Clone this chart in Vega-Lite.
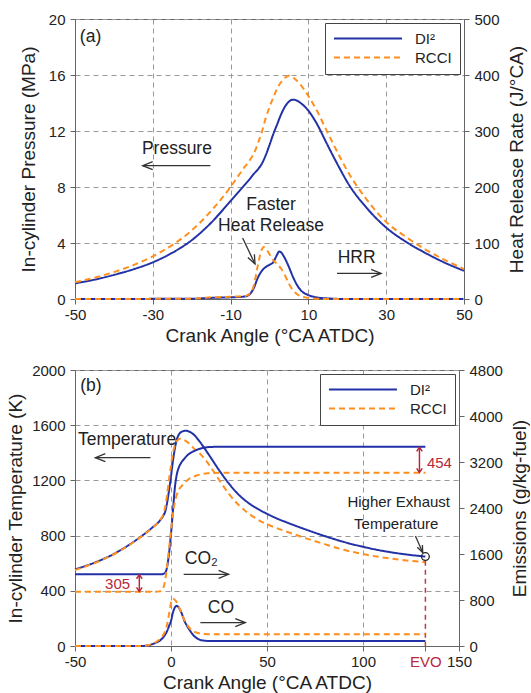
{
"$schema": "https://vega.github.io/schema/vega-lite/v6.json",
"padding": {"left": 6, "top": 11, "right": 0, "bottom": 0},
"spacing": 16,
"config": {
  "font": "Liberation Sans",
  "view": {"stroke": "#666"},
  "axis": {"labelFont": "Liberation Sans", "labelFontSize": 15, "labelColor": "#222", "titleFont": "Liberation Sans", "titleFontSize": 19, "titleFontWeight": "normal", "titleColor": "#222", "domainColor": "#666", "tickColor": "#666", "tickSize": 5, "gridColor": "#999", "gridDash": [5, 4], "labelFlush": false, "labelOverlap": false, "format": "d"},
  "legend": {"orient": "top-right", "offset": 4, "symbolType": "stroke", "symbolSize": 4624, "symbolStrokeWidth": 2, "clipHeight": 15, "labelFontSize": 15, "labelFont": "Liberation Sans", "labelColor": "#222", "strokeColor": "#444", "fillColor": "white", "padding": 8, "rowPadding": 3, "labelOffset": 12}
},
"datasets": {
  "pres": [
    {"ca":-50,"p":1.12,"s":"DI²"},{"ca":-45,"p":1.38,"s":"DI²"},{"ca":-40,"p":1.72,"s":"DI²"},{"ca":-35,"p":2.12,"s":"DI²"},{"ca":-30,"p":2.62,"s":"DI²"},{"ca":-25,"p":3.3,"s":"DI²"},{"ca":-20,"p":4.2,"s":"DI²"},{"ca":-15,"p":5.45,"s":"DI²"},{"ca":-10,"p":7.0,"s":"DI²"},{"ca":-7,"p":7.95,"s":"DI²"},{"ca":-5,"p":8.6,"s":"DI²"},{"ca":-4,"p":8.95,"s":"DI²"},{"ca":-3,"p":9.25,"s":"DI²"},{"ca":-2,"p":9.65,"s":"DI²"},{"ca":-1,"p":10.25,"s":"DI²"},{"ca":0,"p":11.0,"s":"DI²"},{"ca":1,"p":11.8,"s":"DI²"},{"ca":2,"p":12.5,"s":"DI²"},{"ca":3,"p":13.2,"s":"DI²"},{"ca":4,"p":13.75,"s":"DI²"},{"ca":5,"p":14.1,"s":"DI²"},{"ca":6,"p":14.24,"s":"DI²"},{"ca":7,"p":14.18,"s":"DI²"},{"ca":8,"p":14.0,"s":"DI²"},{"ca":10,"p":13.45,"s":"DI²"},{"ca":12,"p":12.6,"s":"DI²"},{"ca":15,"p":10.95,"s":"DI²"},{"ca":18,"p":9.35,"s":"DI²"},{"ca":20,"p":8.35,"s":"DI²"},{"ca":25,"p":6.5,"s":"DI²"},{"ca":30,"p":5.1,"s":"DI²"},{"ca":35,"p":4.1,"s":"DI²"},{"ca":40,"p":3.3,"s":"DI²"},{"ca":45,"p":2.6,"s":"DI²"},{"ca":50,"p":2.02,"s":"DI²"},
    {"ca":-50,"p":1.2,"s":"RCCI"},{"ca":-45,"p":1.52,"s":"RCCI"},{"ca":-40,"p":1.92,"s":"RCCI"},{"ca":-35,"p":2.42,"s":"RCCI"},{"ca":-30,"p":3.05,"s":"RCCI"},{"ca":-25,"p":3.85,"s":"RCCI"},{"ca":-20,"p":4.9,"s":"RCCI"},{"ca":-15,"p":6.3,"s":"RCCI"},{"ca":-10,"p":8.0,"s":"RCCI"},{"ca":-7,"p":9.2,"s":"RCCI"},{"ca":-5,"p":9.95,"s":"RCCI"},{"ca":-4,"p":10.4,"s":"RCCI"},{"ca":-3,"p":11.1,"s":"RCCI"},{"ca":-2,"p":11.9,"s":"RCCI"},{"ca":-1,"p":12.9,"s":"RCCI"},{"ca":0,"p":13.7,"s":"RCCI"},{"ca":1,"p":14.4,"s":"RCCI"},{"ca":2,"p":15.05,"s":"RCCI"},{"ca":3,"p":15.5,"s":"RCCI"},{"ca":4,"p":15.8,"s":"RCCI"},{"ca":5,"p":15.95,"s":"RCCI"},{"ca":6,"p":15.85,"s":"RCCI"},{"ca":7,"p":15.6,"s":"RCCI"},{"ca":8,"p":15.3,"s":"RCCI"},{"ca":10,"p":14.5,"s":"RCCI"},{"ca":12,"p":13.55,"s":"RCCI"},{"ca":15,"p":11.85,"s":"RCCI"},{"ca":18,"p":10.2,"s":"RCCI"},{"ca":20,"p":9.16,"s":"RCCI"},{"ca":25,"p":7.1,"s":"RCCI"},{"ca":30,"p":5.5,"s":"RCCI"},{"ca":35,"p":4.45,"s":"RCCI"},{"ca":40,"p":3.55,"s":"RCCI"},{"ca":45,"p":2.8,"s":"RCCI"},{"ca":50,"p":2.14,"s":"RCCI"}
  ],
  "hrr": [
    {"ca":-50,"h":0,"s":"DI²"},{"ca":-20,"h":0.5,"s":"DI²"},{"ca":-15,"h":2,"s":"DI²"},{"ca":-10,"h":3,"s":"DI²"},{"ca":-7,"h":4,"s":"DI²"},{"ca":-6,"h":5,"s":"DI²"},{"ca":-5,"h":9,"s":"DI²"},{"ca":-4,"h":20,"s":"DI²"},{"ca":-3,"h":38,"s":"DI²"},{"ca":-2,"h":50,"s":"DI²"},{"ca":-1,"h":57,"s":"DI²"},{"ca":0,"h":61,"s":"DI²"},{"ca":1,"h":66,"s":"DI²"},{"ca":2,"h":80,"s":"DI²"},{"ca":2.5,"h":85,"s":"DI²"},{"ca":3,"h":83,"s":"DI²"},{"ca":4,"h":72,"s":"DI²"},{"ca":5,"h":57,"s":"DI²"},{"ca":6,"h":40,"s":"DI²"},{"ca":7,"h":26,"s":"DI²"},{"ca":8,"h":16,"s":"DI²"},{"ca":10,"h":7,"s":"DI²"},{"ca":12,"h":3,"s":"DI²"},{"ca":15,"h":1,"s":"DI²"},{"ca":20,"h":0,"s":"DI²"},{"ca":50,"h":0,"s":"DI²"},
    {"ca":-50,"h":0,"s":"RCCI"},{"ca":-20,"h":0.5,"s":"RCCI"},{"ca":-15,"h":3,"s":"RCCI"},{"ca":-10,"h":4,"s":"RCCI"},{"ca":-7,"h":5,"s":"RCCI"},{"ca":-6,"h":6,"s":"RCCI"},{"ca":-5,"h":10,"s":"RCCI"},{"ca":-4,"h":25,"s":"RCCI"},{"ca":-3,"h":60,"s":"RCCI"},{"ca":-2,"h":88,"s":"RCCI"},{"ca":-1.5,"h":93,"s":"RCCI"},{"ca":-1,"h":91,"s":"RCCI"},{"ca":0,"h":80,"s":"RCCI"},{"ca":1,"h":69,"s":"RCCI"},{"ca":2,"h":62,"s":"RCCI"},{"ca":3,"h":54,"s":"RCCI"},{"ca":4,"h":42,"s":"RCCI"},{"ca":5,"h":27,"s":"RCCI"},{"ca":6,"h":16,"s":"RCCI"},{"ca":7,"h":9,"s":"RCCI"},{"ca":8,"h":5,"s":"RCCI"},{"ca":10,"h":2,"s":"RCCI"},{"ca":12,"h":0.5,"s":"RCCI"},{"ca":15,"h":0,"s":"RCCI"},{"ca":50,"h":0,"s":"RCCI"}
  ],
  "temp": [
    {"ca":-50,"t":556,"s":"DI²"},{"ca":-45,"t":578,"s":"DI²"},{"ca":-40,"t":603,"s":"DI²"},{"ca":-35,"t":632,"s":"DI²"},{"ca":-30,"t":665,"s":"DI²"},{"ca":-25,"t":705,"s":"DI²"},{"ca":-20,"t":750,"s":"DI²"},{"ca":-15,"t":800,"s":"DI²"},{"ca":-10,"t":855,"s":"DI²"},{"ca":-6,"t":905,"s":"DI²"},{"ca":-4,"t":945,"s":"DI²"},{"ca":-3,"t":975,"s":"DI²"},{"ca":-2,"t":1040,"s":"DI²"},{"ca":-1,"t":1130,"s":"DI²"},{"ca":0,"t":1230,"s":"DI²"},{"ca":1,"t":1340,"s":"DI²"},{"ca":2,"t":1430,"s":"DI²"},{"ca":3,"t":1495,"s":"DI²"},{"ca":4,"t":1530,"s":"DI²"},{"ca":6,"t":1555,"s":"DI²"},{"ca":8,"t":1560,"s":"DI²"},{"ca":10,"t":1550,"s":"DI²"},{"ca":12,"t":1530,"s":"DI²"},{"ca":15,"t":1480,"s":"DI²"},{"ca":20,"t":1380,"s":"DI²"},{"ca":25,"t":1275,"s":"DI²"},{"ca":30,"t":1180,"s":"DI²"},{"ca":35,"t":1100,"s":"DI²"},{"ca":40,"t":1040,"s":"DI²"},{"ca":45,"t":995,"s":"DI²"},{"ca":50,"t":958,"s":"DI²"},{"ca":55,"t":925,"s":"DI²"},{"ca":60,"t":897,"s":"DI²"},{"ca":70,"t":845,"s":"DI²"},{"ca":80,"t":797,"s":"DI²"},{"ca":90,"t":754,"s":"DI²"},{"ca":100,"t":719,"s":"DI²"},{"ca":110,"t":690,"s":"DI²"},{"ca":120,"t":668,"s":"DI²"},{"ca":132.5,"t":648,"s":"DI²"},
    {"ca":-50,"t":550,"s":"RCCI"},{"ca":-45,"t":574,"s":"RCCI"},{"ca":-40,"t":600,"s":"RCCI"},{"ca":-35,"t":630,"s":"RCCI"},{"ca":-30,"t":663,"s":"RCCI"},{"ca":-25,"t":703,"s":"RCCI"},{"ca":-20,"t":748,"s":"RCCI"},{"ca":-15,"t":798,"s":"RCCI"},{"ca":-10,"t":853,"s":"RCCI"},{"ca":-6,"t":905,"s":"RCCI"},{"ca":-5,"t":925,"s":"RCCI"},{"ca":-4,"t":955,"s":"RCCI"},{"ca":-3,"t":1010,"s":"RCCI"},{"ca":-2,"t":1100,"s":"RCCI"},{"ca":-1,"t":1210,"s":"RCCI"},{"ca":0,"t":1310,"s":"RCCI"},{"ca":1,"t":1400,"s":"RCCI"},{"ca":2,"t":1455,"s":"RCCI"},{"ca":3,"t":1485,"s":"RCCI"},{"ca":5,"t":1503,"s":"RCCI"},{"ca":7,"t":1492,"s":"RCCI"},{"ca":10,"t":1460,"s":"RCCI"},{"ca":12,"t":1430,"s":"RCCI"},{"ca":15,"t":1395,"s":"RCCI"},{"ca":20,"t":1310,"s":"RCCI"},{"ca":25,"t":1205,"s":"RCCI"},{"ca":30,"t":1105,"s":"RCCI"},{"ca":35,"t":1025,"s":"RCCI"},{"ca":40,"t":965,"s":"RCCI"},{"ca":45,"t":918,"s":"RCCI"},{"ca":50,"t":882,"s":"RCCI"},{"ca":55,"t":855,"s":"RCCI"},{"ca":60,"t":830,"s":"RCCI"},{"ca":70,"t":782,"s":"RCCI"},{"ca":80,"t":738,"s":"RCCI"},{"ca":90,"t":697,"s":"RCCI"},{"ca":100,"t":666,"s":"RCCI"},{"ca":110,"t":642,"s":"RCCI"},{"ca":120,"t":624,"s":"RCCI"},{"ca":132.5,"t":607,"s":"RCCI"}
  ],
  "emis": [
    {"ca":-50,"e":1247,"s":"DI²","g":"CO2"},{"ca":-10,"e":1247,"s":"DI²","g":"CO2"},{"ca":-5,"e":1249,"s":"DI²","g":"CO2"},{"ca":-4,"e":1255,"s":"DI²","g":"CO2"},{"ca":-3,"e":1275,"s":"DI²","g":"CO2"},{"ca":-2,"e":1380,"s":"DI²","g":"CO2"},{"ca":-1,"e":1620,"s":"DI²","g":"CO2"},{"ca":0,"e":1950,"s":"DI²","g":"CO2"},{"ca":1,"e":2350,"s":"DI²","g":"CO2"},{"ca":2,"e":2750,"s":"DI²","g":"CO2"},{"ca":3,"e":2980,"s":"DI²","g":"CO2"},{"ca":4,"e":3100,"s":"DI²","g":"CO2"},{"ca":5,"e":3170,"s":"DI²","g":"CO2"},{"ca":7,"e":3260,"s":"DI²","g":"CO2"},{"ca":9,"e":3330,"s":"DI²","g":"CO2"},{"ca":12,"e":3390,"s":"DI²","g":"CO2"},{"ca":16,"e":3440,"s":"DI²","g":"CO2"},{"ca":20,"e":3460,"s":"DI²","g":"CO2"},{"ca":25,"e":3465,"s":"DI²","g":"CO2"},{"ca":132.5,"e":3465,"s":"DI²","g":"CO2"},
    {"ca":-50,"e":942,"s":"RCCI","g":"CO2"},{"ca":-10,"e":942,"s":"RCCI","g":"CO2"},{"ca":-6,"e":950,"s":"RCCI","g":"CO2"},{"ca":-5,"e":965,"s":"RCCI","g":"CO2"},{"ca":-4,"e":1010,"s":"RCCI","g":"CO2"},{"ca":-3,"e":1150,"s":"RCCI","g":"CO2"},{"ca":-2,"e":1400,"s":"RCCI","g":"CO2"},{"ca":-1,"e":1700,"s":"RCCI","g":"CO2"},{"ca":0,"e":2000,"s":"RCCI","g":"CO2"},{"ca":1,"e":2300,"s":"RCCI","g":"CO2"},{"ca":2,"e":2500,"s":"RCCI","g":"CO2"},{"ca":3,"e":2630,"s":"RCCI","g":"CO2"},{"ca":4,"e":2710,"s":"RCCI","g":"CO2"},{"ca":6,"e":2800,"s":"RCCI","g":"CO2"},{"ca":8,"e":2870,"s":"RCCI","g":"CO2"},{"ca":10,"e":2920,"s":"RCCI","g":"CO2"},{"ca":13,"e":2960,"s":"RCCI","g":"CO2"},{"ca":16,"e":2990,"s":"RCCI","g":"CO2"},{"ca":20,"e":3005,"s":"RCCI","g":"CO2"},{"ca":25,"e":3011,"s":"RCCI","g":"CO2"},{"ca":132.5,"e":3011,"s":"RCCI","g":"CO2"},
    {"ca":-50,"e":0,"s":"DI²","g":"CO"},{"ca":-15,"e":0,"s":"DI²","g":"CO"},{"ca":-12,"e":10,"s":"DI²","g":"CO"},{"ca":-10,"e":29,"s":"DI²","g":"CO"},{"ca":-8,"e":55,"s":"DI²","g":"CO"},{"ca":-5,"e":116,"s":"DI²","g":"CO"},{"ca":-3,"e":200,"s":"DI²","g":"CO"},{"ca":-2,"e":262,"s":"DI²","g":"CO"},{"ca":-1,"e":350,"s":"DI²","g":"CO"},{"ca":0,"e":436,"s":"DI²","g":"CO"},{"ca":1,"e":582,"s":"DI²","g":"CO"},{"ca":2,"e":669,"s":"DI²","g":"CO"},{"ca":3,"e":698,"s":"DI²","g":"CO"},{"ca":4,"e":670,"s":"DI²","g":"CO"},{"ca":5,"e":611,"s":"DI²","g":"CO"},{"ca":6,"e":530,"s":"DI²","g":"CO"},{"ca":7,"e":436,"s":"DI²","g":"CO"},{"ca":8,"e":370,"s":"DI²","g":"CO"},{"ca":10,"e":262,"s":"DI²","g":"CO"},{"ca":12,"e":175,"s":"DI²","g":"CO"},{"ca":14,"e":125,"s":"DI²","g":"CO"},{"ca":16,"e":99,"s":"DI²","g":"CO"},{"ca":20,"e":88,"s":"DI²","g":"CO"},{"ca":25,"e":87,"s":"DI²","g":"CO"},{"ca":132.5,"e":87,"s":"DI²","g":"CO"},
    {"ca":-50,"e":0,"s":"RCCI","g":"CO"},{"ca":-15,"e":0,"s":"RCCI","g":"CO"},{"ca":-12,"e":12,"s":"RCCI","g":"CO"},{"ca":-10,"e":35,"s":"RCCI","g":"CO"},{"ca":-8,"e":65,"s":"RCCI","g":"CO"},{"ca":-5,"e":150,"s":"RCCI","g":"CO"},{"ca":-3,"e":260,"s":"RCCI","g":"CO"},{"ca":-2,"e":380,"s":"RCCI","g":"CO"},{"ca":-1,"e":560,"s":"RCCI","g":"CO"},{"ca":0,"e":750,"s":"RCCI","g":"CO"},{"ca":1,"e":824,"s":"RCCI","g":"CO"},{"ca":2,"e":805,"s":"RCCI","g":"CO"},{"ca":3,"e":760,"s":"RCCI","g":"CO"},{"ca":4,"e":690,"s":"RCCI","g":"CO"},{"ca":5,"e":610,"s":"RCCI","g":"CO"},{"ca":6,"e":530,"s":"RCCI","g":"CO"},{"ca":7,"e":450,"s":"RCCI","g":"CO"},{"ca":8,"e":390,"s":"RCCI","g":"CO"},{"ca":10,"e":300,"s":"RCCI","g":"CO"},{"ca":12,"e":250,"s":"RCCI","g":"CO"},{"ca":14,"e":225,"s":"RCCI","g":"CO"},{"ca":16,"e":212,"s":"RCCI","g":"CO"},{"ca":20,"e":206,"s":"RCCI","g":"CO"},{"ca":25,"e":204,"s":"RCCI","g":"CO"},{"ca":132.5,"e":204,"s":"RCCI","g":"CO"}
  ],
  "txtA": [
    {"ca":-46.0,"p":18.35,"txt":"(a)"},{"ca":-23.8,"p":10.33,"txt":"Pressure"},{"ca":0.4,"p":6.36,"txt":"Faster"},{"ca":0.4,"p":4.83,"txt":"Heat Release"},{"ca":22.4,"p":2.54,"txt":"HRR"}
  ],
  "arrA": [
    {"name":"pressure","ca":-15.2,"p":9.52,"ca2":-32.6,"p2":9.52},
    {"name":"faster","ca":-6.9,"p":4.36,"ca2":-3.73,"p2":2.5},
    {"name":"hrr","ca":17.35,"p":1.83,"ca2":28.7,"p2":1.83}
  ],
  "txtBT": [
    {"ca":-41.7,"t":1850,"txt":"(b)"},{"ca":-22.9,"t":1454,"txt":"Temperature"}
  ],
  "txtBT2": [
    {"ca":118.6,"t":1005,"txt":"Higher Exhaust"},{"ca":117.3,"t":846,"txt":"Temperature"}
  ],
  "arrBT": [
    {"name":"temp","ca":-10.7,"t":1365,"ca2":-39.4,"t2":1365},
    {"name":"exhaust","ca":127.3,"t":797,"ca2":131.1,"t2":677}
  ],
  "evo": [{"ca":132.5,"t":618,"t2":0}],
  "circ": [{"ca":132.5,"t":648}],
  "txtBE": [
    {"ca":15.8,"e":1420,"txt":"CO₂"},{"ca":26.0,"e":569,"txt":"CO"}
  ],
  "arrBE": [
    {"name":"co2","ca":6.6,"e":1247,"ca2":30.0,"e2":1247},
    {"name":"co","ca":15.3,"e":407,"ca2":38.7,"e2":407}
  ],
  "redTxt": [
    {"ca":-27.8,"e":991,"txt":"305"},{"ca":139.8,"e":3103,"txt":"454"}
  ],
  "redArr": [
    {"ca":-16.5,"e":950,"e2":1240},
    {"ca":129.4,"e":3020,"e2":3455}
  ]
},
"vconcat": [
  {
    "width": 389, "height": 280,
    "layer": [
      {
        "encoding": {
          "x": {"field": "ca", "type": "quantitative", "scale": {"domain": [-50, 50], "nice": false, "zero": false}, "axis": {"title": "Crank Angle (°CA ATDC)", "values": [-50, -30, -10, 10, 30, 50], "grid": true, "labelPadding": 3, "titlePadding": 4, "labelExpr": "replace(datum.label, '−', '-')"}},
          "y": {"field": "p", "type": "quantitative", "scale": {"domain": [0, 20], "nice": false}, "axis": {"title": "In-cylinder Pressure (MPa)", "values": [0, 4, 8, 12, 16, 20], "grid": true, "labelPadding": 5, "titlePadding": 10}}
        },
        "layer": [
          {"data": {"name": "pres"}, "mark": {"type": "line", "strokeWidth": 2, "interpolate": "monotone"},
           "encoding": {
             "color": {"field": "s", "type": "nominal", "scale": {"domain": ["DI²", "RCCI"], "range": ["#2331a6", "#ff8f1f"]}, "legend": {"title": null}},
             "strokeDash": {"field": "s", "type": "nominal", "scale": {"domain": ["DI²", "RCCI"], "range": [[1, 0], [6, 4]]}, "legend": {"title": null}}
           }},
          {"data": {"name": "txtA"}, "mark": {"type": "text", "fontSize": 17.5, "color": "#222", "baseline": "alphabetic", "align": "center"}, "encoding": {"text": {"field": "txt"}}},
          {"data": {"name": "arrA"}, "mark": {"type": "rule", "strokeWidth": 1.3, "color": "#333"}, "encoding": {"x2": {"field": "ca2"}, "y2": {"field": "p2"}}},
          {"data": {"name": "arrA"}, "transform": [{"filter": "datum.name == 'pressure'"}], "mark": {"type": "point", "shape": "M-1,-0.4L0,0L-1,0.4", "size": 400, "filled": false, "strokeWidth": 1.3, "color": "#333", "opacity": 1, "angle": 180}, "encoding": {"x": {"field": "ca2", "type": "quantitative"}, "y": {"field": "p2", "type": "quantitative"}}},
          {"data": {"name": "arrA"}, "transform": [{"filter": "datum.name == 'hrr'"}], "mark": {"type": "point", "shape": "M-1,-0.4L0,0L-1,0.4", "size": 400, "filled": false, "strokeWidth": 1.3, "color": "#333", "opacity": 1, "angle": 0}, "encoding": {"x": {"field": "ca2", "type": "quantitative"}, "y": {"field": "p2", "type": "quantitative"}}},
          {"data": {"name": "arrA"}, "transform": [{"filter": "datum.name == 'faster'"}], "mark": {"type": "point", "shape": "M-1,-0.4L0,0L-1,0.4", "size": 324, "filled": false, "strokeWidth": 1.3, "color": "#333", "opacity": 1, "angle": 64.7}, "encoding": {"x": {"field": "ca2", "type": "quantitative"}, "y": {"field": "p2", "type": "quantitative"}}}
        ]
      },
      {
        "encoding": {
          "x": {"field": "ca", "type": "quantitative", "scale": {"domain": [-50, 50], "nice": false, "zero": false}, "axis": {"title": "Crank Angle (°CA ATDC)", "values": [-50, -30, -10, 10, 30, 50], "grid": true, "labelPadding": 3, "titlePadding": 4, "labelExpr": "replace(datum.label, '−', '-')"}},
          "y": {"field": "h", "type": "quantitative", "scale": {"domain": [0, 500], "nice": false}, "axis": {"title": "Heat Release Rate (J/°CA)", "orient": "right", "values": [0, 100, 200, 300, 400, 500], "grid": false, "labelPadding": 5, "titlePadding": 8, "titleAngle": 270, "titleBaseline": "top"}}
        },
        "layer": [
          {"data": {"name": "hrr"}, "mark": {"type": "line", "strokeWidth": 2, "interpolate": "monotone"},
           "encoding": {
             "color": {"field": "s", "type": "nominal", "scale": {"domain": ["DI²", "RCCI"], "range": ["#2331a6", "#ff8f1f"]}, "legend": {"title": null}},
             "strokeDash": {"field": "s", "type": "nominal", "scale": {"domain": ["DI²", "RCCI"], "range": [[1, 0], [6, 4]]}, "legend": {"title": null}}
           }}
        ]
      }
    ],
    "resolve": {"scale": {"y": "independent"}}
  },
  {
    "width": 384, "height": 276,
    "layer": [
      {
        "encoding": {
          "x": {"field": "ca", "type": "quantitative", "scale": {"domain": [-50, 150], "nice": false, "zero": false}, "axis": {"title": "Crank Angle (°CA ATDC)", "values": [-50, 0, 50, 100, 132.5, 150], "grid": true, "labelPadding": 3, "titlePadding": 4, "labelExpr": "datum.value == 132.5 ? 'EVO' : replace(datum.label, '−', '-')", "labelColor": {"condition": {"test": "datum.value == 132.5", "value": "#b8283b"}, "value": "#222"}, "gridOpacity": {"condition": {"test": "datum.value == 132.5", "value": 0}, "value": 1}}},
          "y": {"field": "t", "type": "quantitative", "scale": {"domain": [0, 2000], "nice": false}, "axis": {"title": "In-cylinder Temperature (K)", "values": [0, 400, 800, 1200, 1600, 2000], "grid": true, "labelPadding": 5, "titlePadding": 6}}
        },
        "layer": [
          {"data": {"name": "temp"}, "mark": {"type": "line", "strokeWidth": 2, "interpolate": "monotone"},
           "encoding": {
             "color": {"field": "s", "type": "nominal", "scale": {"domain": ["DI²", "RCCI"], "range": ["#2331a6", "#ff8f1f"]}, "legend": {"title": null}},
             "strokeDash": {"field": "s", "type": "nominal", "scale": {"domain": ["DI²", "RCCI"], "range": [[1, 0], [6, 4]]}, "legend": {"title": null}}
           }},
          {"data": {"name": "evo"}, "mark": {"type": "rule", "strokeWidth": 1.5, "color": "#c0394b", "strokeDash": [5, 4]}, "encoding": {"y2": {"field": "t2"}}},
          {"data": {"name": "circ"}, "mark": {"type": "point", "shape": "circle", "size": 60, "filled": false, "strokeWidth": 1.3, "color": "#222", "opacity": 1}},
          {"data": {"name": "txtBT"}, "mark": {"type": "text", "fontSize": 17.5, "color": "#222", "baseline": "alphabetic", "align": "center"}, "encoding": {"text": {"field": "txt"}}},
          {"data": {"name": "txtBT2"}, "mark": {"type": "text", "fontSize": 15, "color": "#222", "baseline": "alphabetic", "align": "center"}, "encoding": {"text": {"field": "txt"}}},
          {"data": {"name": "arrBT"}, "mark": {"type": "rule", "strokeWidth": 1.3, "color": "#333"}, "encoding": {"x2": {"field": "ca2"}, "y2": {"field": "t2"}}},
          {"data": {"name": "arrBT"}, "transform": [{"filter": "datum.name == 'temp'"}], "mark": {"type": "point", "shape": "M-1,-0.4L0,0L-1,0.4", "size": 400, "filled": false, "strokeWidth": 1.3, "color": "#333", "opacity": 1, "angle": 180}, "encoding": {"x": {"field": "ca2", "type": "quantitative"}, "y": {"field": "t2", "type": "quantitative"}}},
          {"data": {"name": "arrBT"}, "transform": [{"filter": "datum.name == 'exhaust'"}], "mark": {"type": "point", "shape": "M-1,-0.4L0,0L-1,0.4", "size": 196, "filled": false, "strokeWidth": 1.3, "color": "#333", "opacity": 1, "angle": 66}, "encoding": {"x": {"field": "ca2", "type": "quantitative"}, "y": {"field": "t2", "type": "quantitative"}}}
        ]
      },
      {
        "encoding": {
          "x": {"field": "ca", "type": "quantitative", "scale": {"domain": [-50, 150], "nice": false, "zero": false}, "axis": {"title": "Crank Angle (°CA ATDC)", "values": [-50, 0, 50, 100, 132.5, 150], "grid": true, "labelPadding": 3, "titlePadding": 4, "labelExpr": "datum.value == 132.5 ? 'EVO' : replace(datum.label, '−', '-')", "labelColor": {"condition": {"test": "datum.value == 132.5", "value": "#b8283b"}, "value": "#222"}, "gridOpacity": {"condition": {"test": "datum.value == 132.5", "value": 0}, "value": 1}}},
          "y": {"field": "e", "type": "quantitative", "scale": {"domain": [0, 4800], "nice": false}, "axis": {"title": "Emissions (g/kg-fuel)", "orient": "right", "values": [0, 800, 1600, 2400, 3200, 4000, 4800], "grid": false, "labelPadding": 5, "titlePadding": 8, "titleAngle": 270, "titleBaseline": "top"}}
        },
        "layer": [
          {"data": {"name": "emis"}, "mark": {"type": "line", "strokeWidth": 2, "interpolate": "monotone"},
           "encoding": {
             "detail": {"field": "g"},
             "color": {"field": "s", "type": "nominal", "scale": {"domain": ["DI²", "RCCI"], "range": ["#2331a6", "#ff8f1f"]}, "legend": {"title": null}},
             "strokeDash": {"field": "s", "type": "nominal", "scale": {"domain": ["DI²", "RCCI"], "range": [[1, 0], [6, 4]]}, "legend": {"title": null}}
           }},
          {"data": {"name": "txtBE"}, "mark": {"type": "text", "fontSize": 17.5, "color": "#222", "baseline": "alphabetic", "align": "center"}, "encoding": {"text": {"field": "txt"}}},
          {"data": {"name": "arrBE"}, "mark": {"type": "rule", "strokeWidth": 1.3, "color": "#333"}, "encoding": {"x2": {"field": "ca2"}, "y2": {"field": "e2"}}},
          {"data": {"name": "arrBE"}, "mark": {"type": "point", "shape": "M-1,-0.4L0,0L-1,0.4", "size": 400, "filled": false, "strokeWidth": 1.3, "color": "#333", "opacity": 1, "angle": 0}, "encoding": {"x": {"field": "ca2", "type": "quantitative"}, "y": {"field": "e2", "type": "quantitative"}}},
          {"data": {"name": "redTxt"}, "mark": {"type": "text", "fontSize": 15, "color": "#b8283b", "baseline": "alphabetic", "align": "center"}, "encoding": {"text": {"field": "txt"}}},
          {"data": {"name": "redArr"}, "mark": {"type": "rule", "strokeWidth": 1.5, "color": "#b8283b"}, "encoding": {"y2": {"field": "e2"}}},
          {"data": {"name": "redArr"}, "mark": {"type": "point", "shape": "M-1,-0.7L0,0L-1,0.7", "size": 64, "filled": false, "strokeWidth": 1.5, "color": "#b8283b", "opacity": 1, "angle": 270}, "encoding": {"y": {"field": "e2", "type": "quantitative"}}},
          {"data": {"name": "redArr"}, "mark": {"type": "point", "shape": "M-1,-0.7L0,0L-1,0.7", "size": 64, "filled": false, "strokeWidth": 1.5, "color": "#b8283b", "opacity": 1, "angle": 90}}
        ]
      }
    ],
    "resolve": {"scale": {"y": "independent"}}
  }
],
"resolve": {"scale": {"color": "independent", "strokeDash": "independent"}, "legend": {"color": "independent", "strokeDash": "independent"}}
}
